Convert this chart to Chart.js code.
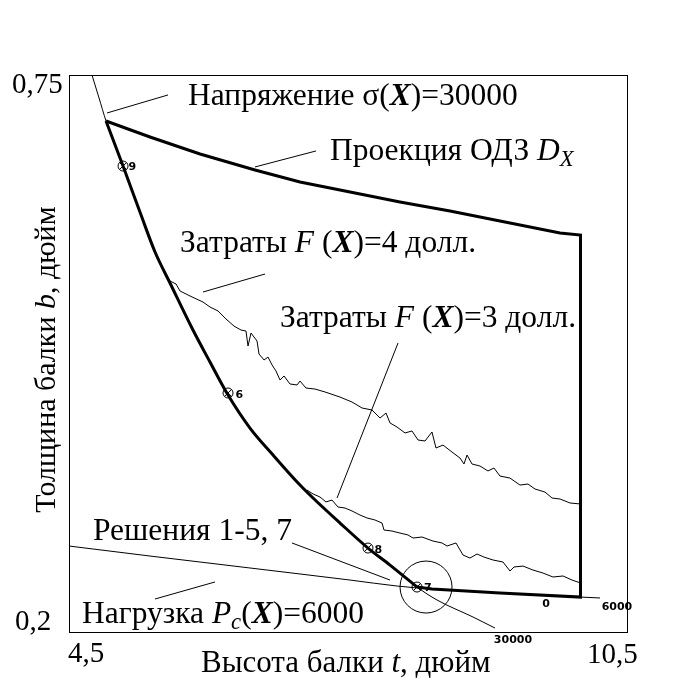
<!DOCTYPE html>
<html>
<head>
<meta charset="utf-8">
<script src="https://cdn.jsdelivr.net/npm/chart.js@4"></script>
<style>
  html, body { margin: 0; background: #fff; }
  #wrap { width: 700px; height: 700px; }
</style>
</head>
<body>
<div id="wrap"><canvas id="chart"></canvas></div>
<script>
// t - высота балки (дюйм), b - толщина балки (дюйм)

// ограничение по напряжению sigma(X)=30000
const sigmaT = [4.747, 4.823, 4.898, 5.081, 5.263, 5.425, 5.586, 5.833, 6.016, 6.210, 6.446, 6.694, 6.984, 7.124, 7.414, 7.715, 7.952, 8.242, 8.457, 8.844, 9.081];
const sigmaB = [0.75, 0.7273, 0.7046, 0.6601, 0.6147, 0.5752, 0.5446, 0.4982, 0.4666, 0.4340, 0.4014, 0.3748, 0.3451, 0.3323, 0.3076, 0.2829, 0.2661, 0.2444, 0.2316, 0.2148, 0.2039];

// нагрузка Pc(X)=6000
const loadT = [4.5, 5.371, 5.909, 6.446, 6.984, 7.522, 8.027, 8.403, 9.134, 10.0, 10.21];
const loadB = [0.2849, 0.2750, 0.2691, 0.2632, 0.2573, 0.2513, 0.2454, 0.2424, 0.2385, 0.2345, 0.2336];

// проекция ОДЗ: участок по ограничению напряжения
const edgeT = [4.898, 5.081, 5.263, 5.425, 5.586, 5.833, 6.016, 6.210, 6.446, 6.694, 6.984, 7.124, 7.414, 7.715, 7.952, 8.242];
const edgeB = [0.7046, 0.6601, 0.6147, 0.5752, 0.5446, 0.4982, 0.4666, 0.4340, 0.4014, 0.3748, 0.3451, 0.3323, 0.3076, 0.2829, 0.2661, 0.2444];
// проекция ОДЗ: остальной контур
const boundT = [8.242, 8.403, 9.134, 10.0, 10.0, 9.780, 9.134, 8.597, 8.059, 7.522, 6.984, 6.500, 5.909, 5.371, 4.898];
const boundB = [0.2444, 0.2424, 0.2385, 0.2345, 0.5920, 0.5940, 0.6058, 0.6157, 0.6246, 0.6345, 0.6443, 0.6562, 0.6720, 0.6888, 0.7046];

// затраты F(X)=4
const cost4T = [5.565, 5.651, 5.694, 5.801, 5.941, 6.016, 6.102, 6.188, 6.274, 6.349, 6.403, 6.425, 6.457, 6.522, 6.543, 6.597, 6.640, 6.683, 6.726, 6.769, 6.812, 6.876, 6.952, 6.984, 7.048, 7.145, 7.253, 7.414, 7.543, 7.651, 7.758, 7.844, 7.909, 7.952, 8.027, 8.113, 8.188, 8.253, 8.328, 8.403, 8.446, 8.522, 8.618, 8.704, 8.747, 8.780, 8.833, 8.919, 9.005, 9.070, 9.134, 9.242, 9.349, 9.435, 9.511, 9.618, 9.694, 9.780, 9.887, 10.0];
const cost4B = [0.5476, 0.5436, 0.5367, 0.5318, 0.5258, 0.5209, 0.5170, 0.5091, 0.5021, 0.4982, 0.4972, 0.4824, 0.4952, 0.4873, 0.4745, 0.4686, 0.4715, 0.4637, 0.4577, 0.4488, 0.4528, 0.4449, 0.4439, 0.4478, 0.4409, 0.4399, 0.4370, 0.4320, 0.4271, 0.4212, 0.4192, 0.4113, 0.4162, 0.4064, 0.4024, 0.3965, 0.3985, 0.3896, 0.3886, 0.3975, 0.3817, 0.3846, 0.3777, 0.3718, 0.3659, 0.3748, 0.3659, 0.3639, 0.3590, 0.3619, 0.3540, 0.3520, 0.3451, 0.3461, 0.3412, 0.3382, 0.3323, 0.3313, 0.3274, 0.3264];

// затраты F(X)=3
const cost3T = [7.059, 7.124, 7.199, 7.263, 7.328, 7.392, 7.468, 7.543, 7.629, 7.704, 7.790, 7.866, 7.887, 7.973, 8.059, 8.145, 8.199, 8.296, 8.414, 8.511, 8.565, 8.661, 8.737, 8.812, 8.887, 8.962, 9.059, 9.167, 9.242, 9.285, 9.382, 9.489, 9.597, 9.704, 9.812, 9.909, 10.0];
const cost3B = [0.3402, 0.3363, 0.3333, 0.3284, 0.3303, 0.3234, 0.3224, 0.3195, 0.3155, 0.3126, 0.3106, 0.3076, 0.3007, 0.2997, 0.2977, 0.2958, 0.2928, 0.2938, 0.2898, 0.2879, 0.2849, 0.2879, 0.2760, 0.2730, 0.2770, 0.2740, 0.2711, 0.2691, 0.2602, 0.2642, 0.2651, 0.2612, 0.2582, 0.2543, 0.2553, 0.2513, 0.2484];

// найденные решения
const solT = [5.081, 6.210, 7.715, 8.242];
const solB = [0.6601, 0.4360, 0.2829, 0.2444];
const solLabels = ['9', '6', '8', '7'];
const solLabelT = [5.140, 6.290, 7.785, 8.317];
const solLabelB = [0.6592, 0.4340, 0.2810, 0.2434];

// метки уровней у концов линий
const levelText = ['30000', '0', '6000'];
const levelT = [9.274, 9.629, 10.392];
const levelB = [0.1921, 0.2276, 0.2247];

// выноски: начало и конец
const leadT1 = [4.909, 6.500, 5.941, 7.382, 6.898, 5.425];
const leadB1 = [0.7125, 0.6592, 0.5357, 0.3323, 0.2879, 0.2326];
const leadT2 = [5.565, 7.156, 6.608, 8.038, 7.952, 6.070];
const leadB2 = [0.7303, 0.6750, 0.5535, 0.4854, 0.2513, 0.2494];

// подписи (левый край, базовая линия)
const noteT = [5.780, 7.306, 5.694, 6.769, 4.758, 4.640];
const noteB = [0.7204, 0.6661, 0.5752, 0.5012, 0.2908, 0.2089];
const notes = [
  [{t: 'Напряжение σ('}, {t: 'X', f: 'bold italic'}, {t: ')=30000'}],
  [{t: 'Проекция ОДЗ '}, {t: 'D', f: 'italic'}, {t: 'X', f: 'italic', sub: true}],
  [{t: 'Затраты '}, {t: 'F', f: 'italic'}, {t: ' ('}, {t: 'X', f: 'bold italic'}, {t: ')=4 долл.'}],
  [{t: 'Затраты '}, {t: 'F', f: 'italic'}, {t: ' ('}, {t: 'X', f: 'bold italic'}, {t: ')=3 долл.'}],
  [{t: 'Решения 1-5, 7'}],
  [{t: 'Нагрузка '}, {t: 'P', f: 'italic'}, {t: 'c', f: 'italic', sub: true}, {t: '('}, {t: 'X', f: 'bold italic'}, {t: ')=6000'}]
];

const xTicks = ['4,5', '10,5'];
const yTicks = ['0,75', '0,2'];
const xTitle = [{t: 'Высота балки '}, {t: 't', f: 'italic'}, {t: ', дюйм'}];
const yTitle = [{t: 'Толщина балки '}, {t: 'b', f: 'italic'}, {t: ', дюйм'}];

const pts = (xs, ys) => xs.map((x, i) => ({x: x, y: ys[i]}));
const SERIF = '"Liberation Serif", "Times New Roman", serif';

function line(data, w, smooth) {
  const ds = {data: data, showLine: true, borderColor: '#000', borderWidth: w,
              pointRadius: 0, tension: 0, fill: false};
  if (smooth) ds.cubicInterpolationMode = 'monotone';
  return ds;
}

const leaders = leadT1.map((t, i) => line([{x: t, y: leadB1[i]}, {x: leadT2[i], y: leadB2[i]}], 1));

function richWidth(ctx, segs, size) {
  let w = 0;
  segs.forEach(s => {
    ctx.font = (s.f || '') + ' ' + (s.sub ? size * 0.72 : size) + 'px ' + SERIF;
    w += ctx.measureText(s.t).width;
  });
  return w;
}
function drawRich(ctx, segs, x, y, size) {
  let cx = x;
  segs.forEach(s => {
    ctx.font = (s.f || '') + ' ' + (s.sub ? size * 0.72 : size) + 'px ' + SERIF;
    ctx.fillText(s.t, cx, s.sub ? y + size * 0.2 : y);
    cx += ctx.measureText(s.t).width;
  });
}

const textPlugin = {
  id: 'texts',
  afterDatasetsDraw(chart) {
    const ctx = chart.ctx, a = chart.chartArea;
    const sx = chart.scales.x, sy = chart.scales.y;
    ctx.save();
    ctx.strokeStyle = '#000';
    ctx.lineWidth = 1;
    ctx.strokeRect(a.left + 0.5, a.top + 0.5, a.right - a.left, a.bottom - a.top);
    ctx.fillStyle = '#000';
    ctx.textBaseline = 'alphabetic';
    ctx.textAlign = 'left';
    notes.forEach((n, i) => drawRich(ctx, n, sx.getPixelForValue(noteT[i]), sy.getPixelForValue(noteB[i]), 31.5));

    // подписи шкал
    ctx.font = '29px ' + SERIF;
    ctx.fillText(yTicks[0], a.left - 57, a.top + 18);
    ctx.fillText(yTicks[1], a.left - 54, a.bottom - 2);
    ctx.fillText(xTicks[0], a.left - 1, a.bottom + 30);
    ctx.fillText(xTicks[1], a.right - 40, a.bottom + 31);
    drawRich(ctx, xTitle, a.left + 132, a.bottom + 40, 31);
    ctx.save();
    ctx.translate(a.left - 14, (a.top + a.bottom) / 2 + 6);
    ctx.rotate(-Math.PI / 2);
    drawRich(ctx, yTitle, -richWidth(ctx, yTitle, 30) / 2, 0, 30);
    ctx.restore();

    // мелкие метки
    ctx.font = 'bold 11px "DejaVu Sans", sans-serif';
    ctx.textAlign = 'left';
    ctx.textBaseline = 'middle';
    solLabels.forEach((s, i) => ctx.fillText(s, sx.getPixelForValue(solLabelT[i]), sy.getPixelForValue(solLabelB[i])));
    ctx.textAlign = 'center';
    levelText.forEach((s, i) => ctx.fillText(s, sx.getPixelForValue(levelT[i]), sy.getPixelForValue(levelB[i])));
    ctx.restore();
  }
};

new Chart(document.getElementById('chart'), {
  type: 'scatter',
  data: {
    datasets: [
      {data: pts(solT, solB), pointStyle: 'crossRot', pointRadius: 5, borderColor: '#000',
       borderWidth: 1, showLine: false},
      {data: pts(solT, solB), pointStyle: 'circle', pointRadius: 5, borderColor: '#000',
       backgroundColor: 'rgba(0,0,0,0)', borderWidth: 1, showLine: false},
      {data: [{x: 8.339, y: 0.2444}], pointStyle: 'circle', pointRadius: 26, borderColor: '#000',
       backgroundColor: 'rgba(0,0,0,0)', borderWidth: 1, showLine: false},
      line(pts(sigmaT, sigmaB), 1, true),
      line(pts(loadT, loadB), 1, true),
      line(pts(cost4T, cost4B), 1),
      line(pts(cost3T, cost3B), 1),
      line(pts(edgeT, edgeB), 3, true),
      line(pts(boundT, boundB), 3),
      ...leaders
    ]
  },
  options: {
    responsive: true,
    maintainAspectRatio: false,
    animation: false,
    layout: {padding: {left: 69, top: 75, right: 73, bottom: 68}},
    plugins: {legend: {display: false}, tooltip: {enabled: false}},
    scales: {
      x: {type: 'linear', min: 4.5, max: 10.5, display: false},
      y: {type: 'linear', min: 0.2, max: 0.75, display: false}
    }
  },
  plugins: [textPlugin]
});
</script>
</body>
</html>
